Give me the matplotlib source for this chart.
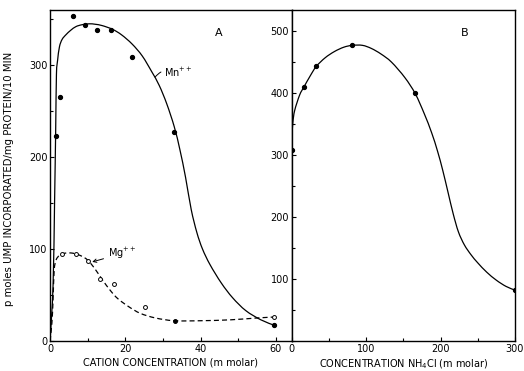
import matplotlib
matplotlib.use('Agg')
import matplotlib.pyplot as plt
from matplotlib.ticker import MultipleLocator
from matplotlib.path import Path
from matplotlib.patches import PathPatch

plt.rcParams['font.family'] = ['DejaVu Sans']

# ---------------------------------------------------------------------------
# Panel A: cation concentration (m molar) vs pmoles UMP incorporated
# ---------------------------------------------------------------------------
MN_X = [1.5, 2.7, 6.2, 9.3, 12.4, 16.3, 21.7, 33.0, 59.6]
MN_Y = [223, 265, 354, 344, 338, 338, 309, 227, 17]

MG_X = [3.3, 7.0, 10.2, 13.3, 17.1, 25.1, 33.3, 59.5]
MG_Y = [94.5, 94.5, 87, 67, 62, 37, 22, 26]
MG_FILLED = [False, False, False, False, False, False, True, False]

# hand-drawn curves, knots
MN_CURVE_X = [0, 0.8, 1.2, 1.5, 1.7, 2.0, 2.5, 3.2, 4.2, 5.5, 6.9, 8.5, 10.4,
              12, 13.9, 16.6, 19, 21.8, 24.5, 27, 29, 31, 33, 34.5, 36,
              37.5, 39, 40.5, 42.5, 45.5, 48.5, 52, 56, 59.6]
MN_CURVE_Y = [0, 60, 150, 230, 290, 305, 320, 328, 333, 338, 342, 344, 345,
              344.5, 343, 339, 333, 323, 310, 293, 278, 258, 233, 208, 178,
              143, 118, 100, 83, 63, 47, 33, 23, 17]

MG_CURVE_X = [0, 0.5, 0.8, 1.1, 1.6, 2.5, 4, 6, 8, 10, 12, 14, 16, 18, 21,
              24, 28, 33, 40, 48, 55, 59.5]
MG_CURVE_Y = [0, 20, 45, 77, 88, 93, 95.5, 95.5, 93, 88, 78, 66, 55, 46, 37,
              30, 25, 22, 22, 23, 25, 26]

# ---------------------------------------------------------------------------
# Panel B: NH4Cl concentration (m molar)
# ---------------------------------------------------------------------------
NH4_X = [0, 16.5, 33, 81.4, 166, 300]
NH4_Y = [308, 410, 443, 477, 400, 82]

NH4_CURVE_X = [0, 0.4, 1.5, 4, 10.7, 16.5, 25, 33, 45, 57.4, 70, 81.4, 95,
               107, 120, 134, 152, 166, 178, 188, 196, 203, 210, 217, 224,
               232, 241, 250, 262, 275, 288, 300]
NH4_CURVE_Y = [308, 330, 352, 372, 397, 410, 428, 443, 457, 467, 474, 477,
               477, 472, 463, 450, 425, 399, 367, 336, 306, 275, 240, 205,
               176, 155, 139, 126, 111, 98, 88, 82]

YLABEL = 'p moles UMP INCORPORATED/mg PROTEIN/10 MIN'
XLABEL_A = 'CATION CONCENTRATION (m molar)'
XLABEL_B = 'CONCENTRATION NH$_4$Cl (m molar)'

FS = 7


def smooth_curve(ax, xs, ys, **kw):
    """Draw a Catmull-Rom style bezier through the knots (like a french curve)."""
    pts = list(zip(xs, ys))
    n = len(pts)
    verts = [pts[0]]
    codes = [Path.MOVETO]
    for i in range(n - 1):
        p0 = pts[max(i - 1, 0)]
        p1 = pts[i]
        p2 = pts[i + 1]
        p3 = pts[min(i + 2, n - 1)]
        c1 = (p1[0] + (p2[0] - p0[0]) / 6, p1[1] + (p2[1] - p0[1]) / 6)
        c2 = (p2[0] - (p3[0] - p1[0]) / 6, p2[1] - (p3[1] - p1[1]) / 6)
        verts += [c1, c2, p2]
        codes += [Path.CURVE4] * 3
    ax.add_patch(PathPatch(Path(verts, codes), fill=False, **kw))


fig = plt.figure(figsize=(5.24, 3.71), dpi=100)
ax_a = fig.add_axes([0.0955, 0.081, 0.4612, 0.892])
ax_b = fig.add_axes([0.5567, 0.081, 0.4261, 0.892])

# ===== Panel A =====
smooth_curve(ax_a, MN_CURVE_X, MN_CURVE_Y, ec='black', lw=0.9)
smooth_curve(ax_a, MG_CURVE_X, MG_CURVE_Y, ec='black', lw=0.9,
             linestyle=(0, (4, 2.5)))
ax_a.plot(MN_X, MN_Y, 'o', color='black', ms=2.8, ls='none')
for x, y, filled in zip(MG_X, MG_Y, MG_FILLED):
    ax_a.plot(x, y, 'o', ms=2.8, mec='black', mew=0.7,
              mfc='black' if filled else 'white')

ax_a.set_xlim(0, 64.2)
ax_a.set_ylim(0, 360)
ax_a.xaxis.set_major_locator(MultipleLocator(20))
ax_a.xaxis.set_minor_locator(MultipleLocator(10))
ax_a.yaxis.set_major_locator(MultipleLocator(100))
ax_a.yaxis.set_minor_locator(MultipleLocator(50))
ax_a.tick_params(which='both', direction='in', labelsize=FS, width=0.8, pad=2)
ax_a.tick_params(which='major', length=3)
ax_a.tick_params(which='minor', length=2)
ax_a.set_xlabel(XLABEL_A, fontsize=FS, labelpad=3)
ax_a.set_ylabel(YLABEL, fontsize=7.3)
ax_a.yaxis.set_label_coords(-0.15, 0.49)
ax_a.text(0.70, 0.93, 'A', transform=ax_a.transAxes, fontsize=8,
          ha='center', va='center')

ax_a.annotate('Mn$^{++}$', xy=(27.9, 287), xytext=(30.2, 292), fontsize=FS,
              va='center', ha='left',
              arrowprops=dict(arrowstyle='-', lw=0.7, color='black',
                              connectionstyle='arc3,rad=0.4',
                              shrinkA=0, shrinkB=0))
ax_a.annotate('Mg$^{++}$', xy=(11.2, 86), xytext=(15.3, 95), fontsize=FS,
              va='center', ha='left',
              arrowprops=dict(arrowstyle='->', lw=0.7, color='black',
                              shrinkA=1, shrinkB=0, mutation_scale=6))

# ===== Panel B =====
smooth_curve(ax_b, NH4_CURVE_X, NH4_CURVE_Y, ec='black', lw=0.9)
ax_b.plot(NH4_X, NH4_Y, 'o', color='black', ms=2.8, ls='none')
ax_b.set_xlim(0, 300)
ax_b.set_ylim(0, 534)
ax_b.xaxis.set_major_locator(MultipleLocator(100))
ax_b.xaxis.set_minor_locator(MultipleLocator(50))
ax_b.set_yticks([100, 200, 300, 400, 500])
ax_b.yaxis.set_minor_locator(MultipleLocator(50))
ax_b.tick_params(which='both', direction='in', labelsize=FS, width=0.8, pad=2)
ax_b.tick_params(which='major', length=3)
ax_b.tick_params(which='minor', length=2)
ax_b.set_xlabel(XLABEL_B, fontsize=FS, labelpad=3)
ax_b.text(0.776, 0.93, 'B', transform=ax_b.transAxes, fontsize=8,
          ha='center', va='center')

for ax in (ax_a, ax_b):
    for spine in ax.spines.values():
        spine.set_linewidth(1.0)

fig.savefig('out.png', dpi=100, facecolor='white')
